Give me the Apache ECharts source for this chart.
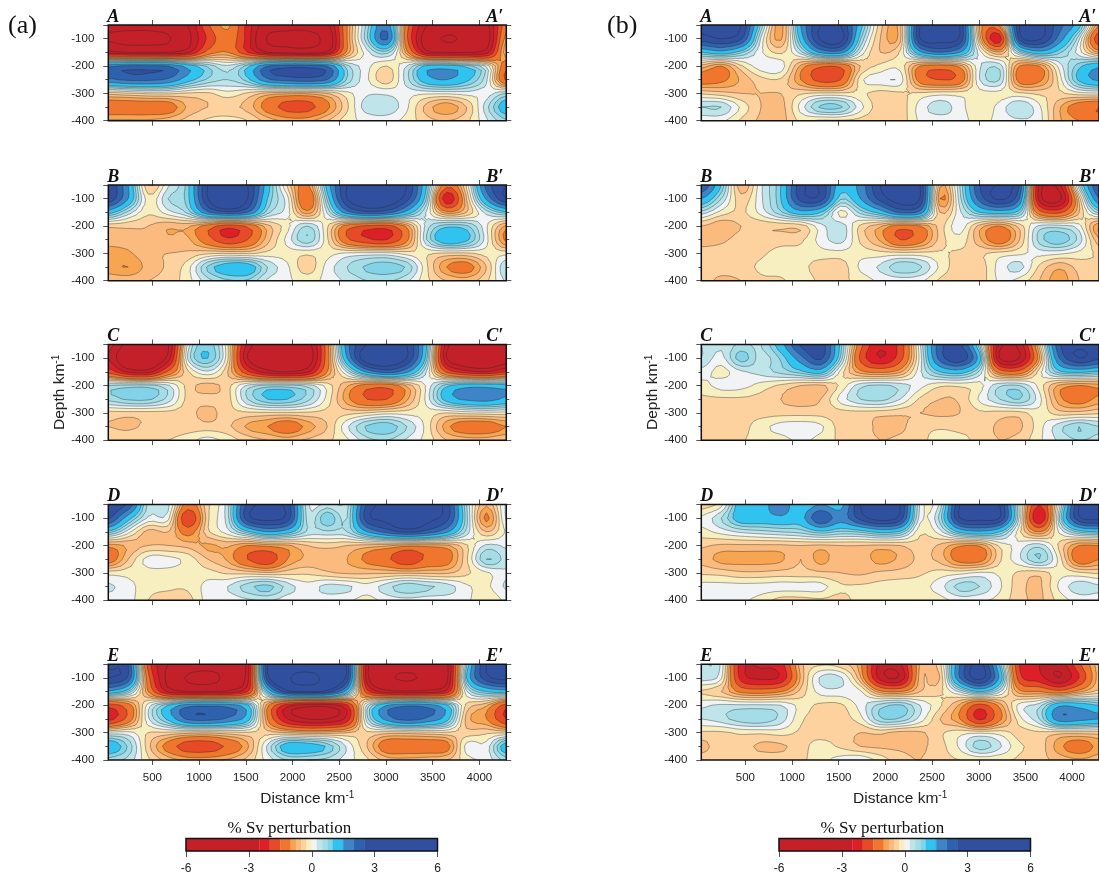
<!DOCTYPE html>
<html><head><meta charset="utf-8">
<style>html,body{margin:0;padding:0;background:#fff;overflow:hidden}#c{width:1099px;height:877px}</style>
<script src="https://cdn.jsdelivr.net/npm/echarts@6/dist/echarts.min.js"></script>
</head><body><div id="c"></div>
<script>
const distances=[28,241,454,667,880,1093,1306,1519,1732,1945,2158,2371,2584,2797,3010,3223,3436,3649,3862,4075,4288];
const depths=[-50,-100,-150,-200,-250,-300,-350,-400];
const xTicks=[500,1000,1500,2000,2500,3000,3500,4000];
const bandEdges=[-6,-2.5,-2,-1.5,-1,-0.75,-0.5,-0.25,0,0.25,0.5,0.75,1,1.5,2,2.5,6];
const bandColors=['#c4202a','#dd2027','#e64a26','#f0762d','#f8a552','#fbbb7f','#fdd29f','#f8efc1','#f1f3f4','#bfe4ea','#a5dde6','#82d3e8','#30c3f0','#3d85c6','#2f62ae','#30509f'];
const extraContours=[-4,-3,3,4];
const cbTitle='% Sv perturbation';
const sideLabels=['(a)','(b)'];
const letters=['A','B','C','D','E'];

const panelAa=[
[-3.7,-3.7,-3.7,-3.5,-3,-1.6,-0.9,-2.2,-3.4,-3.7,-3.7,-3.2,-1,0.6,1.8,-1.3,-3,-3.4,-3.4,-3.2,-1.2],
[-4.1,-4.3,-4.3,-4.1,-3.2,-1.9,-1.2,-2.2,-4.1,-4.3,-4.3,-3.6,-1,0.7,2.1,-1.4,-3.4,-4.1,-3.8,-3.4,-0.8],
[-2.8,-3,-3,-3,-2.6,-1.3,-1,-2,-3,-3.2,-3.3,-2.9,-0.9,0.15,0.6,-0.9,-2.8,-3,-3,-2.7,-0.5],
[1.9,2.1,2.1,2,1.3,0.7,0.3,0.9,2,2.3,2.3,2,0.6,0.1,-0.25,0.25,1.1,1.2,0.9,0.2,-1.3],
[1.9,2.1,2.1,1.9,1.2,0.7,0.5,0.9,1.9,2.2,2.3,2,0.7,0.05,-0.4,0.4,1.3,1.5,1.1,0.3,-1.6],
[-0.4,-0.3,-0.2,-0.2,-0.3,-0.3,-0.1,-0.3,-0.6,-0.7,-0.7,-0.5,-0.1,0.2,0.2,0.1,0.05,0.05,0.1,0.1,0.5],
[-1.3,-1.3,-1.3,-1.25,-0.7,-0.5,-0.45,-0.6,-1.2,-1.7,-1.7,-1.1,-0.3,0.4,0.45,0.05,-0.6,-0.95,-0.5,0.4,1.3],
[-0.7,-0.7,-0.7,-0.6,-0.4,-0.2,-0.15,-0.25,-0.6,-0.8,-0.8,-0.5,-0.1,0.05,0.1,-0.1,-0.4,-0.5,-0.3,0.2,0.7]];
const panelBa=[
[3,1.5,-0.5,0.2,0.9,3,3.2,3,1.2,-0.3,-1.1,1.2,3,3.4,3.3,3,1,-1.3,-0.2,2.2,3],
[2.9,1.5,-0.15,0.5,0.9,3,4,3,1,0.1,-1.5,0.8,3,3.5,3.5,2.7,0.7,-2.4,-0.5,1.6,3],
[1.2,0.4,-0.2,0.15,0.6,1.9,2.4,2,0.6,0.1,-0.9,0.3,1.8,2.4,2.2,1.3,0.2,-0.9,-0.5,0.35,0.9],
[-0.45,-0.45,-0.5,-0.7,-0.7,-1.2,-1.8,-1.4,-0.6,-0.1,0.5,-0.2,-1.2,-1.6,-1.7,-0.9,0.35,0.9,0.8,0.05,-0.8],
[-0.6,-0.6,-0.55,-0.7,-0.7,-1.3,-1.9,-1.5,-0.6,0.1,0.7,-0.2,-1.4,-1.9,-2,-1.1,0.5,1.4,1.1,0.1,-1.1],
[-0.9,-0.8,-0.55,-0.5,-0.45,-0.3,-0.25,-0.3,-0.15,-0.1,-0.2,-0.1,0.05,0.1,0.1,-0.1,-0.2,-0.3,-0.3,-0.15,-0.1],
[-0.9,-1,-0.65,-0.45,-0.1,0.8,1.3,1.3,0.5,0.05,-0.4,0.1,0.5,0.8,0.9,0.7,-0.2,-1,-1.2,-0.5,0.5],
[-0.6,-0.6,-0.5,-0.4,-0.1,0.4,0.7,0.7,0.2,0.05,-0.1,0.1,0.3,0.5,0.55,0.3,-0.2,-0.5,-0.6,-0.3,0.3]];
const panelCa=[
[-2.3,-3.2,-3.5,-3.1,0.1,0.9,-0.2,-2.7,-3.3,-3.4,-3.3,-1.2,1.8,3,3.2,3,1,-2.8,-3.3,-3.3,-3],
[-2.5,-3.8,-3.9,-2.8,0.3,1,-0.2,-3,-3.6,-3.7,-3.5,-1.2,1.5,3.5,3.6,3,0.8,-3,-3.6,-3.7,-3.4],
[-1.7,-2.6,-2.7,-1.4,-0.3,0.2,-0.5,-1.9,-2.8,-3,-2.6,-1,0.3,1.6,2.2,1.6,0.2,-1.6,-2.3,-2.5,-2],
[0.5,0.6,0.6,0.3,-0.35,-0.6,-0.35,0.3,0.6,0.6,0.4,-0.1,-0.7,-1.2,-1.3,-0.7,0.05,0.9,1.3,1.3,1.2],
[0.6,0.8,0.8,0.4,-0.35,-0.4,-0.35,0.5,1,1,0.6,-0.1,-0.9,-1.5,-1.5,-0.8,0.1,1.2,1.6,1.7,1.4],
[-0.35,-0.35,-0.35,-0.35,-0.4,-0.6,-0.35,-0.3,-0.3,-0.3,-0.3,-0.35,-0.35,-0.25,-0.1,-0.1,-0.1,-0.25,-0.15,-0.1,-0.1],
[-0.5,-0.55,-0.45,-0.45,-0.4,-0.4,-0.45,-0.8,-1,-1.3,-0.9,-0.5,0.2,0.8,0.95,0.5,-0.1,-0.9,-1.3,-1.3,-1],
[-0.35,-0.3,-0.3,-0.25,-0.1,0.1,-0.1,-0.35,-0.5,-0.6,-0.45,-0.3,-0.05,0.4,0.5,0.2,-0.1,-0.5,-0.6,-0.6,-0.5]];
const panelDa=[
[3,2.4,0.4,0.35,-1.2,-0.3,0.4,2.7,3,2.8,0.3,0.35,0.4,2.6,3.2,3.3,3.2,2.8,0.5,-0.7,0.3],
[2.6,1.2,0.2,0.1,-2,-0.3,0.4,2.8,3.2,2.8,0.4,1,0.5,2.8,3.2,3.8,3.2,2.7,0.6,-1.1,0.3],
[0.9,0.1,-0.6,-0.5,-1.2,-0.3,0.15,0.9,1.5,1.2,0.45,0.45,0.5,1.5,2.2,2.6,2.3,1.6,0.4,-0.5,0.05],
[-0.9,-0.7,-0.5,-0.5,-0.6,-0.8,-0.7,-1,-0.9,-0.8,-0.5,-0.4,-0.5,-0.6,-0.7,-0.9,-0.9,-0.8,-0.3,0.3,0.2],
[-1.3,-0.5,0.1,0.1,-0.1,-0.5,-0.8,-1.5,-1.9,-1,-0.7,-0.7,-0.75,-1.1,-1.4,-1.9,-1.4,-1.2,-0.3,0.75,0.4],
[-0.1,-0.1,-0.1,-0.1,-0.15,-0.15,-0.3,-0.35,-0.45,-0.35,-0.3,-0.45,-0.55,-0.55,-0.55,-0.55,-0.55,-0.55,-0.3,-0.05,0.2],
[0.3,0.1,-0.15,-0.2,-0.2,0.1,0.25,0.65,0.85,0.4,0.1,0.35,0.3,0.1,0.4,0.7,0.55,0.4,0.05,-0.05,0.3],
[0.1,0.1,-0.25,-0.35,-0.35,0.1,0.1,0.2,0.3,0.1,0.1,0.1,0.05,-0.1,0.1,0.15,0.1,0.1,0.05,-0.2,0.05]];
const panelEa=[
[2.9,2.5,-1.7,-3,-3.4,-3.6,-3.5,-2.8,3,3.3,3.4,3.3,2.9,-2.8,-3.5,-3.6,-3.5,-3.2,0.7,3,3.2],
[3,2.4,-1.3,-3.2,-4.1,-4.3,-3.7,-2.7,2.8,3.9,4.3,3.7,2.8,-2.8,-3.8,-4.1,-3.8,-3.2,1,2.8,3.2],
[1.4,0.7,-1,-2.6,-3,-3,-2.9,-2,1,2.8,3,2.8,1.2,-1.8,-2.8,-2.9,-2.8,-2.3,0.2,1,1.2],
[-1.8,-1.2,0.1,1,1.8,1.9,1.8,1.1,-0.9,-2.3,-2.8,-2.8,-2.1,0.3,1.5,1.9,1.8,1.1,-0.3,-0.7,-1.7],
[-2.2,-1.3,0.2,1.1,2.1,2.2,1.9,1.2,-1,-2.5,-3,-3,-2.3,0.4,1.7,2.2,1.9,1.2,-0.6,-1,-2],
[0.1,0.1,-0.25,-0.3,-0.4,-0.45,-0.35,-0.3,-0.4,-0.5,-0.65,-0.6,-0.5,-0.3,-0.4,-0.4,-0.35,-0.3,-0.4,-0.3,-0.3],
[1.4,0.7,-0.4,-1.2,-1.8,-1.8,-1.4,-0.8,0.3,1.3,1.3,0.95,0.2,-0.5,-1.3,-1.3,-1.3,-1.2,0.1,0.1,1.3],
[0.6,0.4,-0.2,-0.6,-0.8,-0.8,-0.7,-0.4,0.1,0.5,0.5,0.4,0.1,-0.2,-0.6,-0.65,-0.6,-0.5,-0.1,0.1,0.6]];
const panelAb=[
[3,3.1,3,0.7,-0.9,1.5,3,3,1.2,-0.4,-0.6,3,3.2,3,-0.8,-0.9,3,3.2,2.2,1.2,-1],
[2.8,3,2.6,0.2,-0.8,1.2,3.1,3.3,0.8,-0.5,-0.6,3,3.2,2.9,-0.6,-2.3,2.7,3.1,1.8,0.3,-1.9],
[1,1.3,0.8,0.05,-0.3,0.4,1.6,1.7,0.2,-0.5,-0.2,1.4,2,1.5,0.1,-0.7,0.6,1.3,0.8,0.1,-0.8],
[-0.6,-1,-0.3,0.15,0.15,-0.8,-1.4,-1.4,-0.5,-0.2,-0.1,-1,-1.2,-0.9,0.2,0.4,-1,-1,0.1,0.9,1.4],
[-1.2,-1.1,-0.7,-0.35,-0.3,-1,-1.7,-1.5,-0.1,0.15,0.15,-1.2,-1.5,-1.3,0.25,0.5,-1.2,-1.1,-0.15,1.1,1.6],
[-0.3,-0.4,-0.5,-0.5,-0.5,-0.3,-0.2,-0.2,-0.2,-0.35,-0.3,-0.2,-0.1,-0.1,-0.1,-0.1,-0.2,-0.3,-0.3,-0.1,-0.05],
[0.5,0.5,-0.05,-0.5,-0.6,0.1,0.8,0.8,0.1,-0.4,-0.4,0.1,0.4,0.1,-0.2,0.1,0.5,0.05,-0.7,-1.3,-1.5],
[0.05,0.05,-0.3,-0.55,-0.6,-0.2,-0.3,-0.3,-0.35,-0.45,-0.4,0.05,0.1,0.1,-0.1,0.1,0.2,0.1,-0.7,-1,-1.2]];
const panelBb=[
[2.5,1,-0.7,0.2,1,2.8,2.9,1.2,1.7,3,3.2,3,-0.7,0.5,2.5,3,2.5,-2.7,-2.7,0.5,2.5],
[1.5,0.5,-0.4,0.2,1,2.7,2.8,0.8,1.5,2.7,3.3,3,-1,0.4,2.2,3.1,2,-2.7,-3.2,-0.4,2],
[0.4,-0.1,-0.3,0.1,0.7,1.3,1,-0.1,0.6,1.2,2.1,1.8,-0.5,0.2,1,1.2,0.8,-1.3,-1.6,-0.5,0.6],
[-0.5,-0.7,-0.5,-0.45,-0.45,-0.4,0.15,0.4,-0.3,-0.7,-1.2,-1,-0.4,0.15,-0.6,-1,-0.4,0.3,0.35,0.1,-1],
[-0.6,-0.55,-0.4,-0.4,-0.35,-0.3,0.1,0.35,-0.3,-0.8,-1.5,-1.2,-0.4,-0.1,-0.7,-1.3,-0.5,0.6,0.95,0.4,-0.7],
[-0.4,-0.4,-0.4,-0.3,-0.15,-0.15,-0.1,-0.1,-0.1,-0.15,-0.15,-0.15,-0.2,-0.3,-0.3,-0.15,-0.05,0.1,0.05,-0.1,-0.3],
[-0.4,-0.4,-0.35,-0.2,-0.1,-0.15,-0.4,-0.4,0.05,0.3,0.7,0.55,-0.05,-0.4,-0.4,0.1,0.35,-0.3,-0.7,-0.4,-0.3],
[-0.4,-0.55,-0.5,-0.3,-0.3,-0.1,-0.3,-0.3,-0.15,0.05,0.1,0.05,-0.3,-0.4,-0.4,0.05,-0.1,-0.5,-0.9,-0.5,-0.4]];
const panelCb=[
[0.5,0.3,0.55,0.5,1.3,2.6,2.8,0.9,-1.3,-2.4,-1.8,0.2,2.3,2.6,0.5,-2.8,-2.8,-0.4,2.4,2.9,2.5],
[0.5,0.15,0.9,0.4,0.8,1.8,2.6,0.7,-1.6,-2.5,-1.7,0.1,2.2,2.9,1.2,-3,-3,-0.8,2,3,2.6],
[0.15,-0.1,0.2,0.35,0.6,0.9,1.2,-0.1,-0.9,-1.1,-0.8,0.2,1,1.2,0.4,-1.2,-1.3,-0.1,0.9,1.1,0.9],
[-0.1,0.1,0.1,-0.1,-0.3,-0.5,-0.55,-0.2,0.4,0.55,0.4,0.1,-0.2,-0.2,-0.1,0.45,0.5,-0.1,-0.8,-1,-0.9],
[-0.3,-0.3,-0.3,-0.35,-0.5,-0.6,-0.5,0.1,0.5,0.6,0.25,-0.3,-0.5,-0.45,0.05,0.5,0.75,0.1,-0.9,-1.2,-0.9],
[-0.35,-0.35,-0.35,-0.35,-0.35,-0.35,-0.35,-0.35,-0.35,-0.4,-0.45,-0.5,-0.55,-0.5,-0.3,-0.35,-0.35,-0.1,-0.4,-0.4,-0.3],
[-0.35,-0.35,-0.35,-0.1,0.1,0.15,0.05,-0.35,-0.4,-0.55,-0.55,-0.35,-0.3,-0.35,-0.35,-0.55,-0.55,-0.1,0.4,0.75,0.5],
[-0.3,-0.3,-0.27,-0.15,-0.1,0.05,-0.1,-0.3,-0.4,-0.5,-0.45,-0.35,-0.1,-0.15,-0.35,-0.5,-0.4,-0.05,0.3,0.5,0.4]];
const panelDb=[
[-0.4,-0.1,1.3,1.3,1.8,1.1,1.5,1.3,3,3.2,3,0.2,0.3,3,3.2,3,0.2,-2,0.1,3,3.2],
[0.05,0.5,1.3,1.3,1.4,1.3,2.5,1.7,2.7,3.3,2.8,0.1,0.6,3,3.2,3,0.2,-2.5,0.5,2.9,3.2],
[-0.1,0.1,0.3,0.4,0.5,0.6,0.9,0.7,0.8,1.1,0.9,-0.2,0.15,1.1,1.4,1,-0.2,-1,0.05,0.8,1],
[-0.45,-0.55,-0.55,-0.55,-0.55,-0.5,-0.55,-0.5,-0.5,-0.55,-0.5,-0.35,-0.55,-0.95,-0.95,-0.2,0.1,0.4,-0.3,-1,-1],
[-0.6,-0.85,-0.85,-0.85,-0.8,-0.5,-0.85,-0.55,-0.6,-0.85,-0.7,-0.45,-0.6,-1.2,-1.2,-0.3,0.2,0.75,-0.1,-1.3,-1],
[-0.3,-0.35,-0.45,-0.45,-0.4,-0.4,-0.45,-0.5,-0.55,-0.45,-0.4,-0.3,-0.15,-0.1,0.05,-0.05,-0.3,-0.4,-0.1,-0.2,-0.3],
[0.1,0.1,0.1,0.1,0.1,0.1,0.1,-0.2,-0.2,-0.15,-0.1,-0.1,0.15,0.6,0.5,0.05,-0.4,-0.55,0.05,0.4,0.3],
[0.1,0.1,0.05,-0.1,-0.35,-0.35,-0.3,-0.35,-0.15,-0.1,-0.1,-0.2,-0.1,0.1,0.05,-0.1,-0.4,-0.55,-0.15,0.1,0.1]];
const panelEb=[
[0.5,0.2,-2.3,-2.4,-2.2,-0.6,-0.3,-0.4,-0.9,-2.7,-2.6,-0.7,-0.35,2,3.2,1,-2,-2.5,-2.8,-1.6,-0.6],
[0.4,0.05,-2.2,-2.6,-2.4,-0.7,0.3,0.3,-0.7,-2.7,-2.9,-0.6,-0.5,2,3.2,1.4,-1.8,-2.3,-3,-2,-0.6],
[-0.3,-0.5,-1.1,-1.2,-1,-0.4,0.1,0.15,0.05,-0.9,-1,-0.5,-0.3,0.3,1,0.3,-0.9,-1,-1.3,-0.8,-0.4],
[0.2,0.3,0.3,0.3,0.25,-0.1,-0.3,-0.3,0.1,0.6,0.8,0.25,-0.2,-0.8,-1.7,-0.9,0.1,0.4,1.4,1.3,1],
[0.25,0.4,0.65,0.7,0.4,-0.2,-0.35,-0.35,-0.1,0.7,0.7,0.15,-0.5,-1,-2.1,-1.1,-0.1,0.5,1.8,1.7,1.5],
[-0.3,-0.3,-0.2,-0.2,-0.15,-0.3,-0.35,-0.35,-0.5,-0.45,-0.6,-0.55,-0.3,-0.1,-0.05,-0.1,-0.35,-0.3,-0.4,-0.4,-0.4],
[-0.6,-0.35,-0.4,-0.55,-0.55,-0.35,-0.15,-0.3,-0.5,-0.55,-0.55,-0.55,-0.35,0.05,0.65,0.3,-0.2,-0.35,-0.9,-1.25,-0.9],
[-0.35,-0.35,-0.35,-0.35,-0.35,-0.3,-0.1,0.1,0.2,-0.1,-0.4,-0.5,-0.35,-0.25,-0.2,-0.2,-0.3,-0.4,-0.6,-0.7,-0.6]];

const columnsData=[[panelAa,panelBa,panelCa,panelDa,panelEa],[panelAb,panelBb,panelCb,panelDb,panelEb]];
const panelTops=[25,185,344.5,504.5,664.3];
const panelH=95.7;
const colLeft=[108.3,701.3], colWidth=[398,398.7];
const SX=4,SY=3;
const sans='"Liberation Sans",Arial,sans-serif', serif='"Liberation Serif","Times New Roman",serif';
const inkC='#222';

function cr(a,b,c,d,t){return 0.5*((2*b)+(c-a)*t+(2*a-5*b+4*c-d)*t*t+(3*b-a-3*c+d)*t*t*t);}
function upsample(m){
  const R=m.length,C=m[0].length;
  const byX=m.map(r=>{const o=[];for(let i=0;i<C-1;i++){for(let s=0;s<SX;s++){o.push(cr(r[Math.max(i-1,0)],r[i],r[i+1],r[Math.min(i+2,C-1)],s/SX));}}o.push(r[C-1]);return o;});
  const out=[];
  for(let j=0;j<R-1;j++){for(let s=0;s<SY;s++){const row=[];for(let i=0;i<byX[0].length;i++){row.push(cr(byX[Math.max(j-1,0)][i],byX[j][i],byX[j+1][i],byX[Math.min(j+2,R-1)][i],s/SY));}out.push(row);}}
  out.push(byX[R-1]);return out;
}
const f1=n=>n.toFixed(1);
function polyStr(p){let s='M'+f1(p[0][0])+' '+f1(p[0][1]);for(let i=1;i<p.length;i++)s+='L'+f1(p[i][0])+' '+f1(p[i][1]);return s+'Z';}
function clip(tri,L,sg){
  const out=[];
  for(let i=0;i<3;i++){
    const a=tri[i],b=tri[(i+1)%3],ia=sg*(a[2]-L)>=0,ib=sg*(b[2]-L)>=0;
    if(ia)out.push(a);
    if(ia!==ib){const t=(L-a[2])/(b[2]-a[2]);out.push([a[0]+(b[0]-a[0])*t,a[1]+(b[1]-a[1])*t]);}
  }
  return out;
}
function regionPath(F,X,Y,L,sg){
  let parts=[];
  for(let j=0;j<Y.length-1;j++){
    let run=-1;
    const flush=i=>{if(run>=0){parts.push('M'+f1(X[run])+' '+f1(Y[j])+'L'+f1(X[i])+' '+f1(Y[j])+'L'+f1(X[i])+' '+f1(Y[j+1])+'L'+f1(X[run])+' '+f1(Y[j+1])+'Z');run=-1;}};
    for(let i=0;i<X.length-1;i++){
      const v=[F[j][i],F[j][i+1],F[j+1][i+1],F[j+1][i]];
      const n=v.reduce((c,x)=>c+(sg*(x-L)>=0?1:0),0);
      if(n===4){if(run<0)run=i;continue;}
      flush(i);
      if(n===0)continue;
      const A=[X[i],Y[j],v[0]],B=[X[i+1],Y[j],v[1]],C=[X[i+1],Y[j+1],v[2]],D=[X[i],Y[j+1],v[3]];
      [[A,B,C],[A,C,D]].forEach(t=>{const p=clip(t,L,sg);if(p.length>=3)parts.push(polyStr(p));});
    }
    flush(X.length-1);
  }
  return parts.join('');
}
function linePath(F,X,Y,L){
  let parts=[];
  for(let j=0;j<Y.length-1;j++)for(let i=0;i<X.length-1;i++){
    const v=[F[j][i],F[j][i+1],F[j+1][i+1],F[j+1][i]];
    const mn=Math.min.apply(null,v),mx=Math.max.apply(null,v);
    if(L<mn||L>mx)continue;
    const A=[X[i],Y[j],v[0]],B=[X[i+1],Y[j],v[1]],C=[X[i+1],Y[j+1],v[2]],D=[X[i],Y[j+1],v[3]];
    [[A,B,C],[A,C,D]].forEach(t=>{
      const pts=[];
      for(let k=0;k<3;k++){const a=t[k],b=t[(k+1)%3];if((a[2]>=L)!==(b[2]>=L)){const u=(L-a[2])/(b[2]-a[2]);pts.push([a[0]+(b[0]-a[0])*u,a[1]+(b[1]-a[1])*u]);}}
      if(pts.length===2)parts.push('M'+f1(pts[0][0])+' '+f1(pts[0][1])+'L'+f1(pts[1][0])+' '+f1(pts[1][1]));
    });
  }
  return parts.join('');
}
function makeRender(matrix){
  const F=upsample(matrix);
  return function(params,api){
    if(params.dataIndex!==0)return null;
    const X=[],Y=[];
    for(let i=0;i<distances.length-1;i++)for(let s=0;s<SX;s++)X.push(api.coord([distances[i]+(distances[i+1]-distances[i])*s/SX,-100])[0]);
    X.push(api.coord([distances[distances.length-1],-100])[0]);
    for(let j=0;j<depths.length-1;j++)for(let s=0;s<SY;s++)Y.push(api.coord([1000,depths[j]+(depths[j+1]-depths[j])*s/SY])[1]);
    Y.push(api.coord([1000,depths[depths.length-1]])[1]);
    const kids=[];
    const x0=X[0],x1=X[X.length-1],y0=Y[0],y1=Y[Y.length-1];
    kids.push({type:'rect',shape:{x:x0,y:y0,width:x1-x0,height:y1-y0},style:{fill:bandColors[8]},silent:true});
    for(let k=7;k>=0;k--){const d=regionPath(F,X,Y,bandEdges[k+1],-1);if(d)kids.push({type:'path',shape:{pathData:d},style:{fill:bandColors[k]},silent:true});}
    for(let k=9;k<bandColors.length;k++){const d=regionPath(F,X,Y,bandEdges[k],1);if(d)kids.push({type:'path',shape:{pathData:d},style:{fill:bandColors[k]},silent:true});}
    const ls=bandEdges.slice(1,-1).concat(extraContours);
    let all='';
    ls.forEach(L=>{all+=linePath(F,X,Y,L);});
    if(all)kids.push({type:'path',shape:{pathData:all},style:{fill:'none',stroke:'rgba(35,35,35,0.65)',lineWidth:0.6},silent:true});
    return {type:'group',children:kids};
  };
}

const grid=[],xAxis=[],yAxis=[],series=[],graphic=[];
const supRich={s:{fontFamily:sans,fontSize:10,color:inkC,verticalAlign:'top',lineHeight:17}};
columnsData.forEach((col,c)=>{
  col.forEach((m,p)=>{
    const gi=grid.length,isLast=p===4,isMid=p===2;
    grid.push({left:colLeft[c],top:panelTops[p],width:colWidth[c],height:panelH,show:true,borderColor:'#111',borderWidth:1.5,backgroundColor:'transparent',z:5});
    const xb={gridIndex:gi,type:'value',position:'bottom',min:distances[0],max:distances[distances.length-1],splitLine:{show:false},
      axisLine:{show:false},axisTick:{show:true,length:5,customValues:xTicks,lineStyle:{color:'#555',width:1}},
      axisLabel:{show:isLast,customValues:xTicks,formatter:v=>String(v),color:inkC,fontFamily:sans,fontSize:11.5,margin:12}};
    if(isLast)Object.assign(xb,{name:'Distance km{s|-1}',nameLocation:'middle',nameGap:30,nameTextStyle:{fontFamily:sans,fontSize:15.5,color:inkC,rich:supRich}});
    xAxis.push(xb);
    xAxis.push({gridIndex:gi,type:'value',position:'top',min:distances[0],max:distances[distances.length-1],splitLine:{show:false},axisLine:{show:false},
      axisTick:{show:true,length:5,customValues:xTicks,lineStyle:{color:'#555',width:1}},axisLabel:{show:false}});
    const yb={gridIndex:gi,type:'value',position:'left',min:-400,max:-50,interval:100,splitLine:{show:false},axisLine:{show:false},
      axisTick:{show:true,length:5,lineStyle:{color:'#555',width:1}},minorTick:{show:true,splitNumber:2,length:3,lineStyle:{color:'#555',width:1}},
      axisLabel:{color:inkC,fontFamily:sans,fontSize:11.5,margin:14,showMaxLabel:false}};
    if(isMid)Object.assign(yb,{name:'Depth km{s|-1}',nameLocation:'middle',nameGap:40,nameRotate:90,nameTextStyle:{fontFamily:sans,fontSize:15.5,color:inkC,rich:supRich}});
    yAxis.push(yb);
    yAxis.push({gridIndex:gi,type:'value',position:'right',min:-400,max:-50,interval:100,splitLine:{show:false},axisLine:{show:false},
      axisTick:{show:true,length:5,lineStyle:{color:'#555',width:1}},minorTick:{show:true,splitNumber:2,length:3,lineStyle:{color:'#555',width:1}},axisLabel:{show:false}});
    const nodes=[];
    depths.forEach((d,j)=>distances.forEach((x,i)=>nodes.push([x,d,m[j][i]])));
    series.push({type:'custom',coordinateSystem:'cartesian2d',xAxisIndex:xAxis.length-2,yAxisIndex:yAxis.length-2,data:nodes,encode:{x:0,y:1},renderItem:makeRender(m),animation:false,silent:true,z:2,clip:false});
    const ty=panelTops[p]-17;
    graphic.push({type:'text',left:colLeft[c]-1,top:ty,z:20,silent:true,style:{text:letters[p],font:'italic bold 18px '+serif,fill:'#111'}});
    graphic.push({type:'text',left:colLeft[c]+378,top:ty,z:20,silent:true,style:{text:letters[p]+'\u2032',font:'italic bold 18px '+serif,fill:'#111'}});
  });
});
const cbLeft=[186,779],cbTitleX=[292.5,885.5],sideX=[8,607];
cbLeft.forEach((l,c)=>{
  const gi=grid.length;
  grid.push({left:l,top:838.5,width:251.5,height:12.5,show:true,borderColor:'#111',borderWidth:1.5,backgroundColor:'transparent',z:5});
  xAxis.push({gridIndex:gi,type:'value',min:-6,max:6,interval:3,splitLine:{show:false},axisLine:{show:false},axisTick:{show:true,length:6,lineStyle:{color:'#555'}},axisLabel:{color:inkC,fontFamily:sans,fontSize:12,margin:12}});
  yAxis.push({gridIndex:gi,type:'value',min:0,max:1,show:false});
  series.push({type:'custom',coordinateSystem:'cartesian2d',xAxisIndex:xAxis.length-1,yAxisIndex:yAxis.length-1,animation:false,silent:true,z:2,
    data:bandColors.map((col,k)=>[bandEdges[k],bandEdges[k+1],k]),encode:{x:[0,1]},
    renderItem:(p,api)=>{const a=api.coord([api.value(0),1]),b=api.coord([api.value(1),0]);const k=api.value(2);
      return {type:'rect',shape:{x:a[0],y:a[1],width:b[0]-a[0],height:b[1]-a[1]},style:{fill:bandColors[k],stroke:bandColors[k],lineWidth:0.3}};}});
  graphic.push({type:'text',left:cbTitleX[c]-65,top:820,z:20,silent:true,style:{text:cbTitle,font:'17px '+serif,fill:'#111'}});
  graphic.push({type:'text',left:sideX[c],top:13,z:20,silent:true,style:{text:sideLabels[c],font:'26px '+serif,fill:'#111'}});
});
const chart=echarts.init(document.getElementById('c'),null,{renderer:'canvas',width:1099,height:877});
chart.setOption({animation:false,backgroundColor:'#fff',grid,xAxis,yAxis,series,graphic,tooltip:{show:false}});
</script></body></html>
